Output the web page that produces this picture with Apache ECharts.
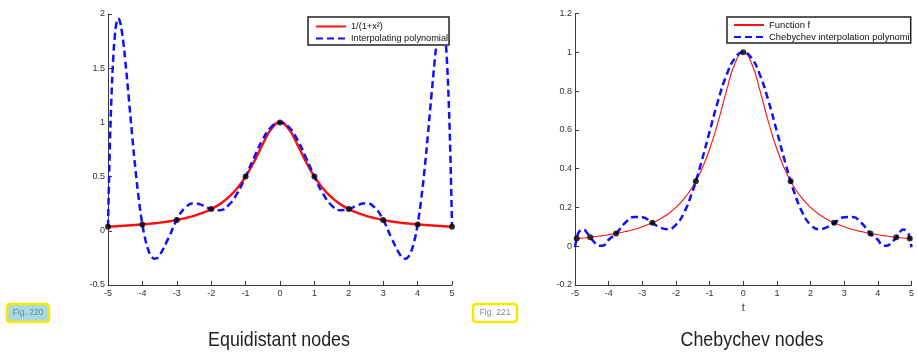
<!DOCTYPE html>
<html><head><meta charset="utf-8">
<script src="https://cdn.jsdelivr.net/npm/echarts@6/dist/echarts.min.js"></script>
<style>html,body{margin:0;padding:0;background:#fff}#c{width:917px;height:355px}</style>
</head><body><div id="c"></div>
<script>
// ---- Left panel: equidistant nodes ----
const eqX = [-5,-4.95,-4.9,-4.85,-4.8,-4.75,-4.7,-4.65,-4.6,-4.55,-4.5,-4.4,-4.3,-4.2,-4.1,-4,-3.9,-3.8,-3.75,-3.7,-3.65,-3.6,-3.5,-3.25,-3,-2.75,-2.5,-2.25,-2,-1.75,-1.5,-1.25,-1,-0.75,-0.5,-0.25,0,
  0.25,0.5,0.75,1,1.25,1.5,1.75,2,2.25,2.5,2.75,3,3.25,3.5,3.6,3.65,3.7,3.75,3.8,3.9,4,4.1,4.2,4.3,4.4,4.5,4.55,4.6,4.65,4.7,4.75,4.8,4.85,4.9,4.95,5];
const eqFunc = [0.0385,0.0392,0.0400,0.0408,0.0416,0.0424,0.0433,0.0442,0.0451,0.0461,0.0471,0.0491,0.0513,0.0536,0.0561,0.0588,0.0617,0.0648,0.0664,0.0681,0.0698,0.0716,0.0755,0.0865,0.1,0.1168,0.1379,0.1649,0.2,0.2462,0.3077,0.3902,0.5,0.64,0.8,0.9412,1,
  0.9412,0.8,0.64,0.5,0.3902,0.3077,0.2462,0.2,0.1649,0.1379,0.1168,0.1,0.0865,0.0755,0.0716,0.0698,0.0681,0.0664,0.0648,0.0617,0.0588,0.0561,0.0536,0.0513,0.0491,0.0471,0.0461,0.0451,0.0442,0.0433,0.0424,0.0416,0.0408,0.0400,0.0392,0.0385];
const eqPoly = [0.0385,0.7261,1.230,1.581,1.804,1.924,1.959,1.928,1.846,1.7257,1.5787,1.2402,0.8881,0.5604,0.2802,0.0588,-0.1007,-0.2013,-0.2315,-0.2496,-0.2569,-0.2546,-0.2262,-0.0726,0.1,0.2156,0.2538,0.2350,0.2,0.1906,0.2353,0.3426,0.5,0.6790,0.8434,0.9586,1,
  0.9586,0.8434,0.6790,0.5,0.3426,0.2353,0.1906,0.2,0.2350,0.2538,0.2156,0.1,-0.0726,-0.2262,-0.2546,-0.2569,-0.2496,-0.2315,-0.2013,-0.1007,0.0588,0.2802,0.5604,0.8881,1.2402,1.5787,1.7257,1.846,1.928,1.959,1.924,1.804,1.581,1.230,0.7261,0.0385];
const eqNodeX = [-5,-4,-3,-2,-1,0,1,2,3,4,5];
const eqNodeY = [0.0385,0.0588,0.1,0.2,0.5,1,0.5,0.2,0.1,0.0588,0.0385];

// ---- Right panel: Chebychev nodes ----
const chX = [-5,-4.949,-4.875,-4.75,-4.625,-4.548,-4.5,-4.375,-4.25,-4.125,-4,-3.779,-3.5,-3.25,-3,-2.703,-2.5,-2.25,-2,-1.75,-1.5,-1.409,-1.25,-1,-0.75,-0.5,-0.25,0,
  0.25,0.5,0.75,1,1.25,1.409,1.5,1.75,2,2.25,2.5,2.703,3,3.25,3.5,3.779,4,4.125,4.25,4.375,4.5,4.548,4.625,4.75,4.875,4.949,5];
const chFunc = [0.0385,0.0392,0.0404,0.0424,0.0447,0.0461,0.0471,0.0497,0.0525,0.0555,0.0588,0.0654,0.0755,0.0865,0.1,0.1204,0.1379,0.1649,0.2,0.2462,0.3077,0.3350,0.3902,0.5,0.64,0.8,0.9412,1,
  0.9412,0.8,0.64,0.5,0.3902,0.3350,0.3077,0.2462,0.2,0.1649,0.1379,0.1204,0.1,0.0865,0.0755,0.0654,0.0588,0.0555,0.0525,0.0497,0.0471,0.0461,0.0447,0.0424,0.0404,0.0392,0.0385];
const chPoly = [-0.0053,0.0392,0.0753,0.0856,0.0641,0.0461,0.0352,0.0126,0.0020,0.0061,0.0333,0.0654,0.1224,0.1504,0.1488,0.1204,0.0987,0.0878,0.1105,0.1764,0.2858,0.3350,0.4296,0.5910,0.7489,0.8812,0.9692,1,
  0.9692,0.8812,0.7489,0.5910,0.4296,0.3350,0.2858,0.1764,0.1105,0.0878,0.0987,0.1204,0.1488,0.1504,0.1224,0.0654,0.0333,0.0061,0.0020,0.0126,0.0352,0.0461,0.0641,0.0856,0.0753,0.0392,-0.0053];
const chNodeX = [-4.949,-4.548,-3.779,-2.703,-1.409,0,1.409,2.703,3.779,4.548,4.949];
const chNodeY = [0.0392,0.0461,0.0654,0.1204,0.3350,1,0.3350,0.1204,0.0654,0.0461,0.0392];

const zip = (xs, ys) => xs.map((x, i) => [x, ys[i]]);
const FONT = 'Liberation Sans';
const RED = '#ff1010', BLUE = '#1010ff', AX = '#3a3a3a';

function xAx(gi, name) {
  return {
    gridIndex: gi, type: 'value', min: -5, max: 5, interval: 1,
    name: name || '', nameLocation: 'middle', nameGap: 16,
    nameTextStyle: { fontFamily: FONT, fontSize: 11, color: '#333' },
    axisLine: { onZero: false, lineStyle: { color: AX, width: 1 } },
    axisTick: { inside: true, length: 4, lineStyle: { color: AX } },
    axisLabel: { margin: 4, fontFamily: FONT, fontSize: 9, color: '#333' },
    splitLine: { show: false }
  };
}
function yAx(gi, min, max, step) {
  return {
    gridIndex: gi, type: 'value', min: min, max: max, interval: step,
    axisLine: { show: true, onZero: false, lineStyle: { color: AX, width: 1 } },
    axisTick: { show: true, inside: true, length: 4, lineStyle: { color: AX } },
    axisLabel: { margin: 3, fontFamily: FONT, fontSize: 9, color: '#333' },
    splitLine: { show: false }
  };
}

const legendCommon = {
  orient: 'vertical', itemGap: 3, itemWidth: 30,
  borderColor: '#222', borderWidth: 1.5, backgroundColor: '#fff',
  itemStyle: { opacity: 0 }
};

const chart = echarts.init(document.getElementById('c'), null, { renderer: 'canvas' });
chart.setOption({
  animation: false,
  backgroundColor: '#fff',
  grid: [
    { left: 108, right: 465, top: 14, bottom: 70 },
    { left: 575, right: 1, top: 13.5, bottom: 70 }
  ],
  xAxis: [xAx(0), xAx(1, 't')],
  yAxis: [yAx(0, -0.5, 2, 0.5), yAx(1, -0.2, 1.2, 0.2)],
  legend: [
    Object.assign({}, legendCommon, {
      data: ['1/(1+x²)', 'Interpolating polynomial'],
      left: 308, top: 17, padding: [5, 1, 2, 7], itemHeight: 10,
      textStyle: { fontFamily: FONT, fontSize: 9.2, color: '#111' }
    }),
    Object.assign({}, legendCommon, {
      data: ['Function f', 'Chebychev interpolation polynomial'],
      left: 727, top: 17, padding: [3.5, 1, 1.5, 6], itemHeight: 9,
      textStyle: { fontFamily: FONT, fontSize: 9.4, color: '#111', width: 146, overflow: 'truncate', ellipsis: '' }
    })
  ],
  series: [
    { name: '1/(1+x²)', type: 'line', xAxisIndex: 0, yAxisIndex: 0, data: zip(eqX, eqFunc),
      smooth: true, symbol: 'none', lineStyle: { color: RED, width: 2.5 }, itemStyle: { color: RED } },
    { name: 'Interpolating polynomial', type: 'line', xAxisIndex: 0, yAxisIndex: 0, data: zip(eqX, eqPoly),
      smooth: true, symbol: 'none', lineStyle: { color: BLUE, width: 2.5, type: [7, 4] }, itemStyle: { color: BLUE } },
    { name: 'eqNodes', type: 'scatter', xAxisIndex: 0, yAxisIndex: 0, data: zip(eqNodeX, eqNodeY),
      symbolSize: 6, itemStyle: { color: '#000' }, z: 5 },
    { name: 'Function f', type: 'line', xAxisIndex: 1, yAxisIndex: 1, data: zip(chX, chFunc),
      smooth: true, symbol: 'none', lineStyle: { color: RED, width: 1.1 }, itemStyle: { color: RED } },
    { name: 'Chebychev interpolation polynomial', type: 'line', xAxisIndex: 1, yAxisIndex: 1, data: zip(chX, chPoly),
      smooth: true, symbol: 'none', lineStyle: { color: BLUE, width: 2.5, type: [7, 4] }, itemStyle: { color: BLUE } },
    { name: 'chNodes', type: 'scatter', xAxisIndex: 1, yAxisIndex: 1, data: zip(chNodeX, chNodeY),
      symbolSize: 6, itemStyle: { color: '#000' }, z: 5 }
  ],
  graphic: [
    { type: 'rect', shape: { x: 7, y: 304, width: 42, height: 18, r: 3 },
      style: { fill: '#a9d9e3', stroke: '#f7e800', lineWidth: 2.5 } },
    { type: 'text', x: 28, y: 313, style: { text: 'Fig. 220', fontFamily: FONT, fontSize: 8.5, fill: '#5f8fa0', align: 'center', verticalAlign: 'middle' } },
    { type: 'rect', shape: { x: 473, y: 304, width: 44, height: 18, r: 3 },
      style: { fill: '#fff', stroke: '#f7e800', lineWidth: 2.5 } },
    { type: 'text', x: 495, y: 313, style: { text: 'Fig. 221', fontFamily: FONT, fontSize: 8.5, fill: '#888', align: 'center', verticalAlign: 'middle' } },
    { type: 'text', x: 279, y: 340, scaleX: 0.85, style: { text: 'Equidistant nodes', fontFamily: FONT, fontSize: 21, fill: '#222', align: 'center', verticalAlign: 'middle' } },
    { type: 'text', x: 752, y: 340, scaleX: 0.85, style: { text: 'Chebychev nodes', fontFamily: FONT, fontSize: 21, fill: '#222', align: 'center', verticalAlign: 'middle' } }
  ]
});
</script></body></html>
